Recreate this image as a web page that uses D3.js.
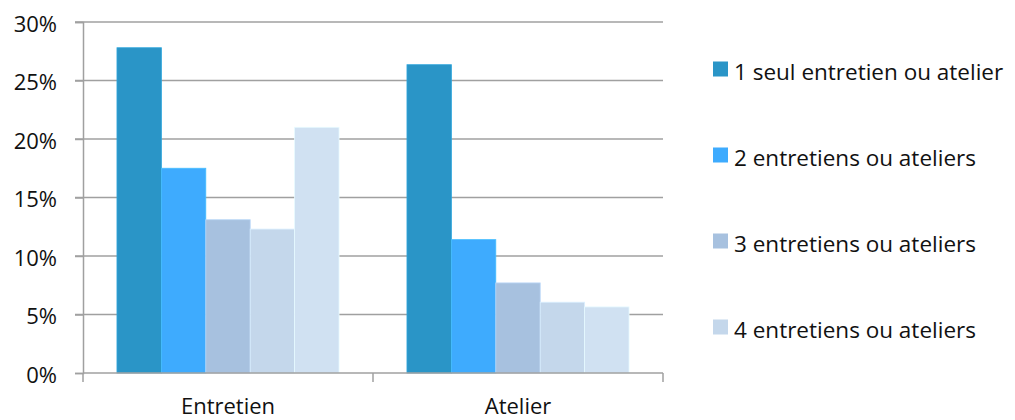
<!DOCTYPE html>
<html><head><meta charset="utf-8">
<script src="https://cdn.jsdelivr.net/npm/d3@7"></script>
<style>body{margin:0;background:#fff;} svg{display:block;}</style>
</head><body>
<svg id="c" width="1015" height="420"></svg>
<script>
const categories = ["Entretien", "Atelier"];
const seriesNames = ["1 seul entretien ou atelier", "2 entretiens ou ateliers", "3 entretiens ou ateliers", "4 entretiens ou ateliers", "5 entretiens ou ateliers et plus"];
const s1 = [27.8, 26.35];
const s2 = [17.5, 11.4];
const s3 = [13.1, 7.7];
const s4 = [12.3, 6.05];
const s5 = [21.0, 5.65];
const yTicks = [0, 5, 10, 15, 20, 25, 30];
const legendShown = 4;
const colors = ["#2A95C7", "#3EABFE", "#A7C1DF", "#C4D7EB", "#D0E1F2"];

const series = [s1, s2, s3, s4, s5];
const svg = d3.select("#c");
const FONT = "'Open Sans', Lato, sans-serif";
const FS = 22;
const mLeft = 83, mRight = 663, mTop = 22, mBottom = 373;

const x = d3.scaleBand().domain(categories).range([mLeft, mRight]).paddingInner(0).paddingOuter(0);
const x1 = d3.scaleBand().domain(d3.range(series.length)).range([0, x.bandwidth()]).paddingOuter(0.765).paddingInner(0);
const y = d3.scaleLinear().domain([0, 30]).range([mBottom, mTop]);

// gridlines
svg.append("g").selectAll("line").data(yTicks.filter(d => d > 0)).join("line")
  .attr("x1", mLeft - 8).attr("x2", mRight).attr("y1", d => y(d)).attr("y2", d => y(d))
  .attr("stroke", "#a0a0a0").attr("stroke-width", 1.5);

// bars
const data = [];
categories.forEach((c, ci) => series.forEach((s, si) => data.push({c, si, v: s[ci]})));
svg.append("g").selectAll("rect").data(data).join("rect")
  .attr("x", d => x(d.c) + x1(d.si)).attr("width", x1.bandwidth())
  .attr("y", d => y(d.v)).attr("height", d => y(0) - y(d.v))
  .attr("fill", d => colors[d.si])
  .attr("stroke", d => d3.color(colors[d.si]).brighter(0.3)).attr("stroke-width", 0.8);

// y axis
const yAxis = d3.axisLeft(y).tickValues(yTicks).tickFormat(d => d + "%").tickSize(8).tickPadding(18);
const ga = svg.append("g").attr("transform", `translate(${mLeft},0)`).call(yAxis);
ga.select(".domain").attr("stroke", "#a0a0a0").attr("stroke-width", 1.5);
ga.selectAll(".tick line").attr("stroke", "#a0a0a0").attr("stroke-width", 1.5);
ga.selectAll("text").attr("font-family", FONT).attr("font-size", FS).attr("fill", "#111").attr("dy", "0.43em");

// x axis
const xAxis = d3.axisBottom(x).tickSize(0).tickPadding(0);
const gx = svg.append("g").attr("transform", `translate(0,${mBottom})`).call(xAxis);
gx.select(".domain").remove();
gx.selectAll("text").attr("font-family", FONT).attr("font-size", FS).attr("fill", "#111").attr("dy", 0).attr("y", 41);
svg.append("line").attr("x1", mLeft).attr("x2", mRight).attr("y1", mBottom).attr("y2", mBottom).attr("stroke", "#a0a0a0").attr("stroke-width", 1.5);
svg.append("g").selectAll("line").data([mLeft, x(categories[1]), mRight]).join("line")
  .attr("x1", d => d).attr("x2", d => d).attr("y1", mBottom).attr("y2", mBottom + 9)
  .attr("stroke", "#a0a0a0").attr("stroke-width", 1.5);

// legend
const lg = svg.append("g").selectAll("g").data(seriesNames.slice(0, legendShown)).join("g")
  .attr("transform", (d, i) => `translate(713,${69 + i * 86})`);
lg.append("rect").attr("x", 0).attr("y", -7.5).attr("width", 15).attr("height", 15).attr("fill", (d, i) => colors[i]);
lg.append("text").attr("x", 21).attr("y", 11).text(d => d)
  .attr("font-family", FONT).attr("font-size", 22.5).attr("fill", "#111");
</script>
</body></html>
